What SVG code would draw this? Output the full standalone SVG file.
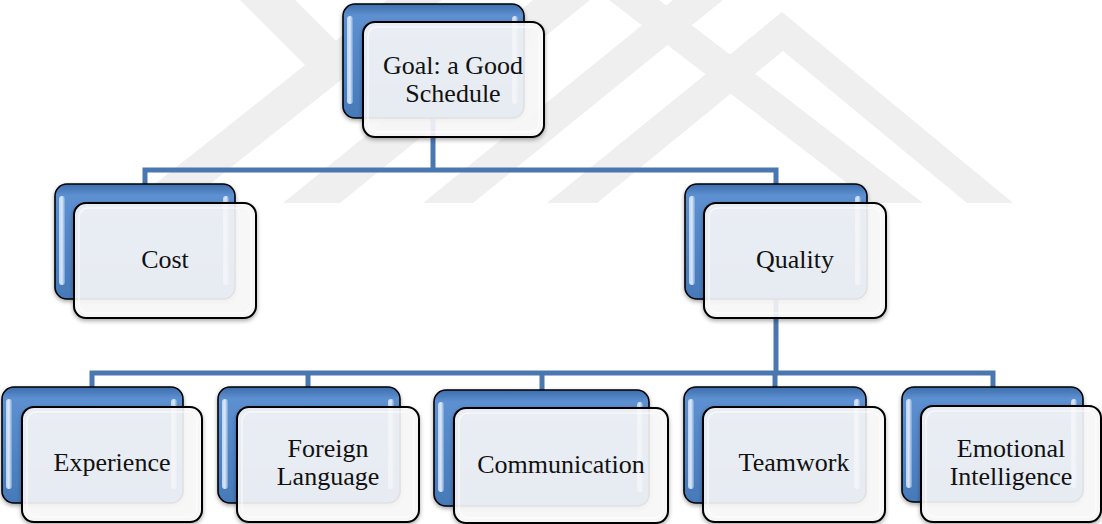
<svg xmlns="http://www.w3.org/2000/svg" width="1102" height="524" viewBox="0 0 1102 524">
  <defs>
    <linearGradient id="gBack" x1="0" y1="0" x2="0" y2="1">
      <stop offset="0" stop-color="#3c6cab"/>
      <stop offset="0.1" stop-color="#5d90d1"/>
      <stop offset="0.5" stop-color="#5386c7"/>
      <stop offset="1" stop-color="#4679b9"/>
    </linearGradient>
    <linearGradient id="gGloss" x1="0" y1="0" x2="1" y2="0">
      <stop offset="0" stop-color="#cfe2fa"/>
      <stop offset="0.5" stop-color="#f2f8ff"/>
      <stop offset="1" stop-color="#7aa3d8"/>
    </linearGradient>
    <filter id="shadow" x="-10%" y="-10%" width="120%" height="125%">
      <feDropShadow dx="0" dy="2" stdDeviation="2" flood-color="#000" flood-opacity="0.35"/>
    </filter>
    <style>
      .wm { fill: #efefef; }
      .link { fill: none; stroke: #4a77b0; stroke-width: 5; stroke-linejoin: miter; }
      .back { fill: url(#gBack); stroke: #000; stroke-width: 1.6; filter: url(#shadow); }
      .gloss { fill: url(#gGloss); opacity: 0.85; }
      .front { fill: #fbfbfc; fill-opacity: 0.88; stroke: #000; stroke-width: 2; filter: url(#shadow); }
      .inner { fill: none; stroke: #ffffff; stroke-opacity: 0.6; stroke-width: 1.5; }
      .label { font-family: "Liberation Serif", "Times New Roman", serif; font-size: 26px; fill: #111; text-anchor: middle; }
    </style>
  </defs>

  <rect width="1102" height="524" fill="#ffffff"/>

  <!-- faint background emblem: diagonal stripes cut at a common baseline -->
  <g id="emblem">
    <polygon class="wm" points="240,0 295,0 365,70 310,70"/>
    <polygon class="wm" points="131,203 186,203 442,0 387,0"/>
    <polygon class="wm" points="283,203 340,203 590,0 533,0"/>
    <polygon class="wm" points="423,203 473,203 723,0 673,0"/>
    <polygon class="wm" points="873,203 923,203 659,0 609,0"/>
    <polygon class="wm" points="547,203 782,12 1013,203 967,203 783,51 597,203"/>
  </g>

  <!-- connectors -->
  <g id="connectors">
    <polyline class="link" points="433,100 433,170"/>
    <polyline class="link" points="145,184 145,170 776,170 776,184"/>
    <polyline class="link" points="776,290 776,373"/>
    <polyline class="link" points="92,387 92,373 993,373 993,387"/>
    <polyline class="link" points="308,373 308,387"/>
    <polyline class="link" points="542,373 542,390"/>
    <polyline class="link" points="775,373 775,387"/>
  </g>

  <g id="goal">
    <rect class="back" x="343" y="4" width="181" height="114" rx="12"/>
    <rect class="gloss" x="347" y="16" width="6" height="88" rx="3"/>
    <rect class="gloss" x="512" y="16" width="6" height="88" rx="3"/>
    <rect class="front" x="363" y="22" width="181" height="115" rx="12"/>
    <rect class="inner" x="368" y="27" width="171" height="105" rx="9"/>
    <text class="label" x="453" y="74">Goal: a Good</text>
    <text class="label" x="453" y="102">Schedule</text>
  </g>

  <g id="cost">
    <rect class="back" x="55" y="184" width="180" height="115" rx="12"/>
    <rect class="gloss" x="59" y="196" width="6" height="89" rx="3"/>
    <rect class="gloss" x="223" y="196" width="6" height="89" rx="3"/>
    <rect class="front" x="74" y="203" width="182" height="115" rx="12"/>
    <rect class="inner" x="79" y="208" width="172" height="105" rx="9"/>
    <text class="label" x="165" y="268">Cost</text>
  </g>

  <g id="quality">
    <rect class="back" x="685" y="184" width="182" height="115" rx="12"/>
    <rect class="gloss" x="689" y="196" width="6" height="89" rx="3"/>
    <rect class="gloss" x="855" y="196" width="6" height="89" rx="3"/>
    <rect class="front" x="704" y="203" width="182" height="115" rx="12"/>
    <rect class="inner" x="709" y="208" width="172" height="105" rx="9"/>
    <text class="label" x="795" y="268">Quality</text>
  </g>

  <g id="experience">
    <rect class="back" x="2" y="387" width="181" height="116" rx="12"/>
    <rect class="gloss" x="6" y="399" width="6" height="90" rx="3"/>
    <rect class="gloss" x="171" y="399" width="6" height="90" rx="3"/>
    <rect class="front" x="22" y="407" width="180" height="115" rx="12"/>
    <rect class="inner" x="27" y="412" width="170" height="105" rx="9"/>
    <text class="label" x="112" y="471">Experience</text>
  </g>

  <g id="foreign-language">
    <rect class="back" x="218" y="387" width="182" height="116" rx="12"/>
    <rect class="gloss" x="222" y="399" width="6" height="90" rx="3"/>
    <rect class="gloss" x="388" y="399" width="6" height="90" rx="3"/>
    <rect class="front" x="237" y="407" width="182" height="115" rx="12"/>
    <rect class="inner" x="242" y="412" width="172" height="105" rx="9"/>
    <text class="label" x="328" y="457">Foreign</text>
    <text class="label" x="328" y="485">Language</text>
  </g>

  <g id="communication">
    <rect class="back" x="434" y="390" width="215" height="116" rx="12"/>
    <rect class="gloss" x="438" y="402" width="6" height="90" rx="3"/>
    <rect class="gloss" x="637" y="402" width="6" height="90" rx="3"/>
    <rect class="front" x="454" y="408" width="214" height="115" rx="12"/>
    <rect class="inner" x="459" y="413" width="204" height="105" rx="9"/>
    <text class="label" x="561" y="473">Communication</text>
  </g>

  <g id="teamwork">
    <rect class="back" x="684" y="387" width="182" height="116" rx="12"/>
    <rect class="gloss" x="688" y="399" width="6" height="90" rx="3"/>
    <rect class="gloss" x="854" y="399" width="6" height="90" rx="3"/>
    <rect class="front" x="703" y="407" width="182" height="115" rx="12"/>
    <rect class="inner" x="708" y="412" width="172" height="105" rx="9"/>
    <text class="label" x="794" y="471">Teamwork</text>
  </g>

  <g id="emotional-intelligence">
    <rect class="back" x="902" y="387" width="181" height="115" rx="12"/>
    <rect class="gloss" x="906" y="399" width="6" height="89" rx="3"/>
    <rect class="gloss" x="1071" y="399" width="6" height="89" rx="3"/>
    <rect class="front" x="921" y="406" width="180" height="116" rx="12"/>
    <rect class="inner" x="926" y="411" width="170" height="106" rx="9"/>
    <text class="label" x="1011" y="457">Emotional</text>
    <text class="label" x="1011" y="485">Intelligence</text>
  </g>
</svg>
